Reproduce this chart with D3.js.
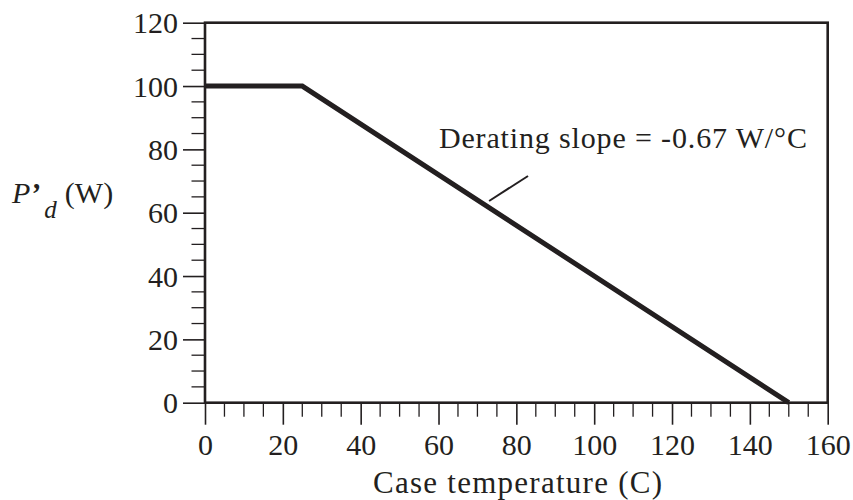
<!DOCTYPE html>
<html>
<head>
<meta charset="utf-8">
<script src="https://cdn.jsdelivr.net/npm/d3@7"></script>
<style>
  body { margin: 0; background: #fff; }
  text { font-family: "Liberation Serif", "Times New Roman", serif; fill: #231f20; }
</style>
</head>
<body>
<div id="chart"></div>
<script>
// derating curve
const tempC = [0, 25, 150];
const powerW = [100, 100, 0];
const xTicks = [0, 20, 40, 60, 80, 100, 120, 140, 160];
const yTicks = [0, 20, 40, 60, 80, 100, 120];
const annotation = "Derating slope = -0.67 W/\u00B0C";
// leader line: [temp, power] of both ends, text anchor
const leader = [[73, 63.7], [83, 71.6]];
const labelAt = [60.1, 80.4];

var width = 853, height = 500;
var margin = {top: 22.7, right: 25.3, bottom: 97.3, left: 205};
var w = width - margin.left - margin.right,
    h = height - margin.top - margin.bottom;

var svg = d3.select("#chart").append("svg")
    .attr("width", width)
    .attr("height", height);

var g = svg.append("g")
    .attr("transform", "translate(" + margin.left + "," + margin.top + ")");

var x = d3.scaleLinear().domain([0, 160]).range([0, w]);
var y = d3.scaleLinear().domain([0, 120]).range([h, 0]);

var ink = "#231f20";

// minor ticks every 5
var xMinor = d3.range(0, 161, 5).filter(function (v) { return v % 20 !== 0; });
var yMinor = d3.range(0, 121, 5).filter(function (v) { return v % 20 !== 0; });

g.selectAll(".xminor").data(xMinor).enter().append("line")
    .attr("x1", function (d) { return x(d); })
    .attr("x2", function (d) { return x(d); })
    .attr("y1", h).attr("y2", h + 14)
    .attr("stroke", ink).attr("stroke-width", 1.3);

g.selectAll(".yminor").data(yMinor).enter().append("line")
    .attr("y1", function (d) { return y(d); })
    .attr("y2", function (d) { return y(d); })
    .attr("x1", 0).attr("x2", -13.5)
    .attr("stroke", ink).attr("stroke-width", 1.3);

// major ticks + labels via axes
var xAxis = g.append("g")
    .attr("transform", "translate(0," + h + ")")
    .call(d3.axisBottom(x).tickValues(xTicks).tickSize(22).tickPadding(9));
var yAxis = g.append("g")
    .call(d3.axisLeft(y).tickValues(yTicks).tickSize(22).tickPadding(5));

[xAxis, yAxis].forEach(function (a) {
    a.select(".domain").remove();
    a.selectAll(".tick line").attr("stroke", ink).attr("stroke-width", 1.6);
    a.selectAll(".tick text")
        .style("font-family", "Liberation Serif, serif")
        .style("font-size", "30px")
        .attr("fill", ink);
});
yAxis.selectAll(".tick text").attr("dy", "0.34em");

// frame
g.append("rect")
    .attr("x", 0).attr("y", 0)
    .attr("width", w).attr("height", h)
    .attr("fill", "none")
    .attr("stroke", ink)
    .attr("stroke-width", 2.6);

// curve
var line = d3.line()
    .x(function (d) { return x(d[0]); })
    .y(function (d) { return y(d[1]); });

g.append("path")
    .datum(d3.zip(tempC, powerW))
    .attr("d", line)
    .attr("fill", "none")
    .attr("stroke", ink)
    .attr("stroke-width", 5)
    .attr("stroke-linejoin", "miter");

// annotation leader and text
g.append("line")
    .attr("x1", x(leader[0][0])).attr("y1", y(leader[0][1]))
    .attr("x2", x(leader[1][0])).attr("y2", y(leader[1][1]))
    .attr("stroke", ink).attr("stroke-width", 2);

g.append("text")
    .attr("x", x(labelAt[0]))
    .attr("y", y(labelAt[1]))
    .attr("textLength", 368)
    .attr("lengthAdjust", "spacing")
    .style("font-size", "30px")
    .text(annotation);

// axis titles
svg.append("text")
    .attr("x", 373)
    .attr("y", 493)
    .attr("textLength", 289)
    .attr("lengthAdjust", "spacing")
    .style("font-size", "31px")
    .text("Case temperature (C)");

var yl = svg.append("text")
    .attr("x", 12)
    .attr("y", 203)
    .style("font-size", "30px");
yl.append("tspan").style("font-style", "italic").text("P");
yl.append("tspan").style("font-style", "italic").style("font-weight", "bold")
    .attr("dx", 0).text("\u2019");
yl.append("tspan").style("font-style", "italic").style("font-size", "25px")
    .attr("dy", 15).attr("dx", 4).text("d");
yl.append("tspan").attr("dy", -15).attr("dx", 8).text("(W)");
</script>
</body>
</html>
